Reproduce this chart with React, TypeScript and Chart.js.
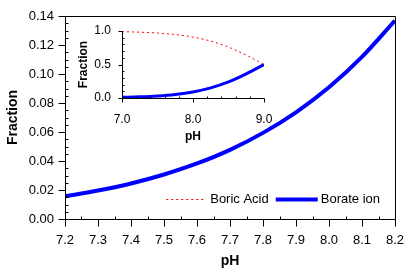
import React, { useEffect, useRef } from "react";
import { Chart, registerables } from "chart.js";

Chart.register(...registerables);

// Main chart data (pH 7.2 – 8.2)
const mainPH = [7.2, 7.3, 7.4, 7.5, 7.6, 7.7, 7.8, 7.9, 8.0, 8.1, 8.2];
const mainBorate = [0.0156, 0.0196, 0.0245, 0.0307, 0.0383, 0.0477, 0.0594, 0.0736, 0.0909, 0.1118, 0.1368];
const mainBoric = [0.9844, 0.9804, 0.9755, 0.9693, 0.9617, 0.9523, 0.9406, 0.9264, 0.9091, 0.8882, 0.8632];

// Inset data (pH 7.0 – 9.0)
const insetPH = [7.0, 7.25, 7.5, 7.75, 8.0, 8.25, 8.5, 8.75, 9.0];
const insetBorate = [0.0099, 0.0175, 0.0307, 0.0532, 0.0909, 0.151, 0.24, 0.36, 0.5];
const insetBoric = [0.9901, 0.9825, 0.9693, 0.9468, 0.9091, 0.849, 0.76, 0.64, 0.5];

const seriesLabels = ["Boric Acid", "Borate ion"];

const FONT = "'Liberation Sans', Arial, Helvetica, sans-serif";
Chart.defaults.font.family = FONT;
Chart.defaults.color = "#000";

const pts = (xs: number[], ys: number[]) => xs.map((x, i) => ({ x, y: ys[i] }));

const axisDecor = {
  id: "axisDecor",
  afterDatasetsDraw(chart: any, _args: any, o: any) {
    const { ctx, chartArea: a, scales } = chart;
    const x = scales.x;
    const y = scales.y;
    ctx.save();
    ctx.strokeStyle = "#000";
    ctx.lineWidth = 1;
    const L = Math.round(a.left) + 0.5;
    const R = Math.round(a.right) + 0.5;
    const T = Math.round(a.top) + 0.5;
    const B = Math.round(a.bottom) + 0.5;
    ctx.beginPath();
    ctx.moveTo(L, T);
    ctx.lineTo(L, B);
    ctx.lineTo(R, B);
    if (o.frame) {
      ctx.lineTo(R, T);
      ctx.lineTo(L, T);
    }
    ctx.stroke();
    ctx.beginPath();
    const xMaj = x.ticks.map((t: any) => t.value);
    const isMaj = (v: number, arr: number[]) => arr.some((m) => Math.abs(m - v) < 1e-6);
    for (const v of xMaj) {
      const px = Math.round(x.getPixelForValue(v)) + 0.5;
      ctx.moveTo(px, B);
      ctx.lineTo(px, B + o.majorLen);
    }
    for (let k = 0; ; k++) {
      const v = x.min + k * o.xMinor;
      if (v > x.max + 1e-9) break;
      if (isMaj(v, xMaj)) continue;
      const px = Math.round(x.getPixelForValue(v)) + 0.5;
      ctx.moveTo(px, B);
      ctx.lineTo(px, B - o.minorLen);
    }
    const yMaj = y.ticks.map((t: any) => t.value);
    for (const v of yMaj) {
      const py = Math.round(y.getPixelForValue(v)) + 0.5;
      ctx.moveTo(L, py);
      ctx.lineTo(L - o.majorLen, py);
    }
    for (let k = 0; ; k++) {
      const v = y.min + k * o.yMinor;
      if (v > y.max + 1e-9) break;
      if (isMaj(v, yMaj)) continue;
      const py = Math.round(y.getPixelForValue(v)) + 0.5;
      ctx.moveTo(L, py);
      ctx.lineTo(L + o.minorLen, py);
    }
    ctx.stroke();

    if (o.legend) {
      const ds = chart.data.datasets;
      ctx.font = `13px ${FONT}`;
      ctx.textBaseline = "middle";
      ctx.fillStyle = "#000";
      const ly = Math.round(a.bottom - 20) + 0.5;
      const lineLens = [38, 42];
      const gapsBefore = [6, 3];
      const gapAfter = 7;
      let total = 0;
      ds.forEach((d: any, i: number) => {
        total += lineLens[i] + gapsBefore[i] + ctx.measureText(d.label).width + (i < ds.length - 1 ? gapAfter : 0);
      });
      let cx = a.right - 15 - total;
      ds.forEach((d: any, i: number) => {
        ctx.save();
        ctx.strokeStyle = d.borderColor;
        ctx.lineWidth = d.borderWidth;
        ctx.setLineDash(d.borderDash || []);
        ctx.beginPath();
        ctx.moveTo(cx, ly);
        ctx.lineTo(cx + lineLens[i], ly);
        ctx.stroke();
        ctx.restore();
        cx += lineLens[i] + gapsBefore[i];
        ctx.fillText(d.label, cx, ly);
        cx += ctx.measureText(d.label).width + gapAfter;
      });
    }
    ctx.restore();
  },
};

function makeConfig(p: any): any {
  return {
    type: "line",
    data: {
      datasets: [
        {
          label: seriesLabels[0],
          data: pts(p.xs, p.boric),
          borderColor: "#ff0000",
          borderWidth: 1,
          borderDash: [2, 3],
          pointRadius: 0,
          cubicInterpolationMode: "monotone",
          fill: false,
        },
        {
          label: seriesLabels[1],
          data: pts(p.xs, p.borate),
          borderColor: "#0000ff",
          borderWidth: p.blueWidth,
          pointRadius: 0,
          cubicInterpolationMode: "monotone",
          fill: false,
        },
      ],
    },
    options: {
      responsive: false,
      animation: false,
      events: [],
      layout: { padding: p.pad },
      plugins: {
        legend: { display: false },
        tooltip: { enabled: false },
        axisDecor: {
          xMinor: p.xMinor, yMinor: p.yMinor, majorLen: p.majorLen, minorLen: p.minorLen,
          frame: p.frame, legend: p.legend,
        },
      },
      scales: {
        x: {
          type: "linear",
          min: p.xMin, max: p.xMax,
          grid: { display: false, drawTicks: false },
          border: { display: false },
          ticks: {
            stepSize: p.xStep,
            padding: p.xTickPad,
            maxRotation: 0,
            autoSkip: false,
            font: { size: p.tickSize },
            color: "#000",
            callback: (v: any) => Number(v).toFixed(p.xDec),
          },
          title: {
            display: true, text: "pH", color: "#000",
            font: { size: p.titleSize, weight: "bold" },
            padding: { top: 0, bottom: p.xTitlePad },
          },
          afterFit: (s: any) => { s.height = p.xHeight; s.paddingLeft = 0; s.paddingRight = 0; },
        },
        y: {
          type: "linear",
          min: p.yMin, max: p.yMax,
          grid: { display: false, drawTicks: false },
          border: { display: false },
          ticks: {
            stepSize: p.yStep,
            padding: p.yTickPad,
            autoSkip: false,
            font: { size: p.tickSize },
            color: "#000",
            callback: (v: any) => Number(v).toFixed(p.yDec),
          },
          title: {
            display: true, text: "Fraction", color: "#000",
            font: { size: p.titleSize, weight: "bold" },
            padding: { top: p.yTitlePad, bottom: 0 },
          },
          afterFit: (s: any) => { s.width = p.yWidth; s.paddingTop = 0; s.paddingBottom = 0; },
        },
      },
    },
    plugins: [axisDecor],
  };
}

export default function App() {
  const mainRef = useRef<HTMLCanvasElement>(null);
  const insetRef = useRef<HTMLCanvasElement>(null);

  useEffect(() => {
    document.body.style.margin = "0";
    const main = new Chart(
      mainRef.current!,
      makeConfig({
        xs: mainPH, boric: mainBoric, borate: mainBorate,
        xMin: 7.2, xMax: 8.2, xStep: 0.1, xDec: 1, xMinor: 0.05,
        yMin: 0, yMax: 0.14, yStep: 0.02, yDec: 2, yMinor: 0.005,
        tickSize: 13, titleSize: 14,
        yWidth: 65, xHeight: 54,
        pad: { top: 16, right: 14, left: 0, bottom: 0 },
        yTickPad: 11, xTickPad: 14, yTitlePad: 5, xTitlePad: 3,
        majorLen: 7, minorLen: 3, frame: true, legend: true,
        blueWidth: 4,
      })
    );
    const inset = new Chart(
      insetRef.current!,
      makeConfig({
        xs: insetPH, boric: insetBoric, borate: insetBorate,
        xMin: 7.0, xMax: 9.0, xStep: 1.0, xDec: 1, xMinor: 0.2,
        yMin: 0, yMax: 1.0, yStep: 0.5, yDec: 1, yMinor: 0.1,
        tickSize: 12, titleSize: 12,
        yWidth: 62, xHeight: 52,
        pad: { top: 16, right: 16, left: 0, bottom: 0 },
        yTickPad: 11, xTickPad: 14, yTitlePad: 16, xTitlePad: 6,
        majorLen: 4, minorLen: 2, frame: false, legend: false,
        blueWidth: 3,
      })
    );
    return () => {
      main.destroy();
      inset.destroy();
    };
  }, []);

  return (
    <div style={{ position: "relative", width: 409, height: 273, background: "#fff" }}>
      <canvas ref={mainRef} width={409} height={273} style={{ position: "absolute", left: 0, top: 0 }} />
      <canvas ref={insetRef} width={220} height={135} style={{ position: "absolute", left: 60, top: 15 }} />
    </div>
  );
}
